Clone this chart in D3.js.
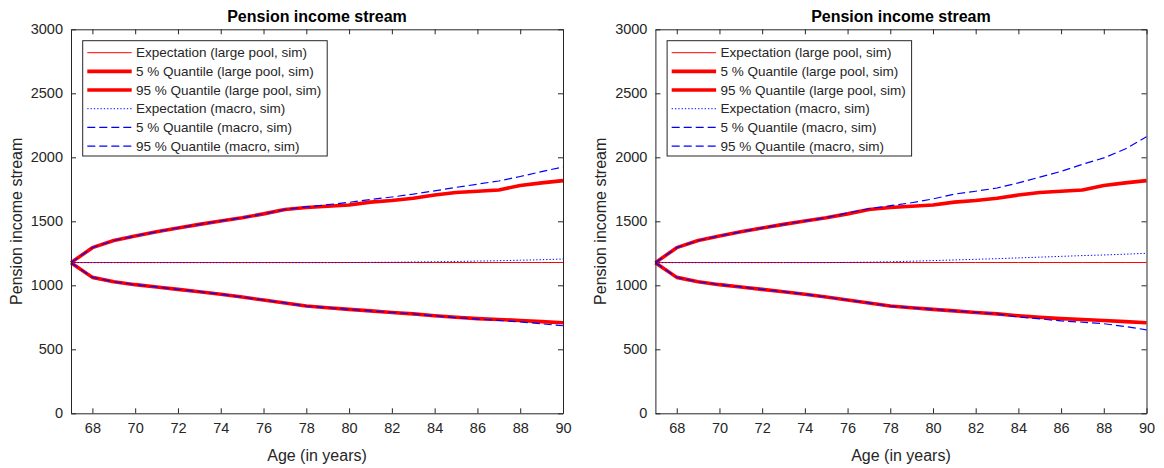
<!DOCTYPE html>
<html>
<head>
<meta charset="utf-8">
<script src="https://cdn.jsdelivr.net/npm/d3@7/dist/d3.min.js"></script>
<style>
	body{ margin:0; background:#fff; }
	svg{ display:block; font-family:"Liberation Sans", Arial, Helvetica, sans-serif; }
</style>
</head>
<body>
<svg id="chart" width="1164" height="468"></svg>
<script>
// ages (x axis)
var ages = [67,68,69,70,71,72,73,74,75,76,77,78,79,80,81,82,83,84,85,86,87,88,89,90];

// large pool (same in both panels)
var poolExpect = [1178,1178,1178,1178,1178,1178,1178,1178,1178,1178,1178,1178,1178,1178,1178,1178,1178,1178,1178,1178,1178,1178,1178,1178];
var pool5  = [1177,1062,1028,1005,987,968,950,930,908,885,862,838,825,812,800,788,777,762,750,740,733,725,716,708];
var pool95 = [1177,1294,1350,1385,1418,1448,1476,1503,1528,1558,1592,1608,1618,1627,1650,1662,1680,1705,1725,1735,1745,1780,1800,1818];

// macro, left panel
var macroExpectL = [1177,1177,1177,1177,1177,1177,1177,1177,1177,1177,1177,1177,1177,1178,1179,1180,1182,1184,1186,1189,1192,1196,1200,1205];
var macro5L  = [1177,1062,1028,1005,987,968,950,930,908,885,862,838,825,812,800,788,777,762,748,736,726,714,699,684];
var macro95L = [1177,1294,1350,1385,1418,1448,1476,1503,1528,1558,1592,1612,1630,1648,1670,1690,1712,1738,1765,1790,1815,1850,1888,1925];

// macro, right panel
var macroExpectR = [1177,1177,1177,1177,1177,1177,1177,1177,1177,1179,1181,1184,1188,1193,1198,1203,1208,1214,1220,1226,1232,1237,1243,1250];
var macro5R  = [1177,1062,1028,1005,987,968,950,930,908,885,862,838,825,812,800,788,777,752,738,722,712,700,678,652];
var macro95R = [1177,1294,1350,1385,1418,1448,1476,1503,1528,1565,1598,1622,1645,1675,1712,1735,1760,1800,1845,1890,1945,1995,2065,2160];

var xTicks = [68,70,72,74,76,78,80,82,84,86,88,90];
var yTicks = [0,500,1000,1500,2000,2500,3000];

var legendLabels = [
	"Expectation (large pool, sim)",
	"5 % Quantile (large pool, sim)",
	"95 % Quantile (large pool, sim)",
	"Expectation (macro, sim)",
	"5 % Quantile (macro, sim)",
	"95 % Quantile (macro, sim)"
];

var titleText = "Pension income stream";
var yLabelText = "Pension income stream";
var xLabelText = "Age (in years)";

var red = "#ff0000";
var blue = "#0000ff";
var axisColor = "#262626";

// line styles for the six series (legend order)
var styles = [
	{ color: red,  width: 1,   dash: null },
	{ color: red,  width: 3.6, dash: null },
	{ color: red,  width: 3.6, dash: null },
	{ color: blue, width: 1,   dash: "1.3,2" },
	{ color: blue, width: 1.2, dash: "8,4" },
	{ color: blue, width: 1.2, dash: "8,4" }
];

var panels = [
	{ left: 71,    right: 563,    series: [poolExpect, pool5, pool95, macroExpectL, macro5L, macro95L] },
	{ left: 655.4, right: 1146.5, series: [poolExpect, pool5, pool95, macroExpectR, macro5R, macro95R] }
];
var plotTop = 29.3, plotBottom = 413.3;

var svg = d3.select("#chart");

var drawPanel = function(p){
	var g = svg.append("g");
	var x = d3.scaleLinear().domain([67, 90]).range([p.left, p.right]);
	var y = d3.scaleLinear().domain([0, 3000]).range([plotBottom, plotTop]);

	// lines
	var line = d3.line()
		.x(function(d, i){ return x(ages[i]); })
		.y(function(d){ return y(d); });
	g.append("g").selectAll("path").data(p.series).enter()
		.append("path")
		.attr("d", function(s){ return line(s); })
		.attr("fill", "none")
		.attr("stroke", function(s, i){ return styles[i].color; })
		.attr("stroke-width", function(s, i){ return styles[i].width; })
		.attr("stroke-dasharray", function(s, i){ return styles[i].dash; })
		.attr("stroke-linejoin", "round");

	// axes (ticks point inward, box on)
	var styleAxis = function(a){
		a.select(".domain").attr("stroke", axisColor);
		a.selectAll(".tick line").attr("stroke", axisColor);
		a.selectAll(".tick text").attr("fill", axisColor)
			.style("font-size", "14.5px");
	};
	g.append("g").attr("transform", "translate(0," + plotBottom + ")")
		.call(d3.axisBottom(x).tickValues(xTicks).tickSizeInner(-5).tickSizeOuter(0).tickPadding(9))
		.call(styleAxis);
	g.append("g").attr("transform", "translate(0," + plotTop + ")")
		.call(d3.axisTop(x).tickValues(xTicks).tickSizeInner(-5).tickSizeOuter(0).tickFormat(""))
		.call(styleAxis);
	g.append("g").attr("transform", "translate(" + p.left + ",0)")
		.call(d3.axisLeft(y).tickValues(yTicks).tickFormat(d3.format("d"))
			.tickSizeInner(-5).tickSizeOuter(0).tickPadding(8))
		.call(styleAxis);
	g.append("g").attr("transform", "translate(" + p.right + ",0)")
		.call(d3.axisRight(y).tickValues(yTicks).tickSizeInner(-5).tickSizeOuter(0).tickFormat(""))
		.call(styleAxis);
	g.selectAll("g").attr("font-family", null);

	// title + labels
	var cx = (p.left + p.right) / 2;
	g.append("text").attr("x", cx).attr("y", 22)
		.attr("text-anchor", "middle").style("font-size", "16px").style("font-weight", "bold")
		.attr("fill", "#000").text(titleText);
	g.append("text").attr("x", cx).attr("y", 461)
		.attr("text-anchor", "middle").style("font-size", "16px")
		.attr("fill", axisColor).text(xLabelText);
	g.append("text")
		.attr("transform", "translate(" + (p.left - 49) + "," + ((plotTop + plotBottom) / 2) + ") rotate(-90)")
		.attr("text-anchor", "middle").style("font-size", "16px")
		.attr("fill", axisColor).text(yLabelText);

	// legend
	var lx = p.left + 11.7, ly = plotTop + 11.4, rowH = 18.67;
	var legend = g.append("g").attr("transform", "translate(" + lx + "," + ly + ")");
	legend.append("rect").attr("width", 244.5).attr("height", 115.3)
		.attr("fill", "#fff").attr("stroke", axisColor).attr("stroke-width", 1);
	var rows = legend.selectAll("g.row").data(legendLabels).enter()
		.append("g").attr("class", "row")
		.attr("transform", function(d, i){ return "translate(0," + (12 + i * rowH) + ")"; });
	rows.append("line")
		.attr("x1", 4.6).attr("x2", 49)
		.attr("stroke", function(d, i){ return styles[i].color; })
		.attr("stroke-width", function(d, i){ return styles[i].width; })
		.attr("stroke-dasharray", function(d, i){ return styles[i].dash; });
	rows.append("text").attr("x", 53.3).attr("dy", "0.35em")
		.style("font-size", "13.5px").attr("fill", axisColor)
		.text(function(d){ return d; });
};

panels.forEach(drawPanel);
</script>
</body>
</html>
